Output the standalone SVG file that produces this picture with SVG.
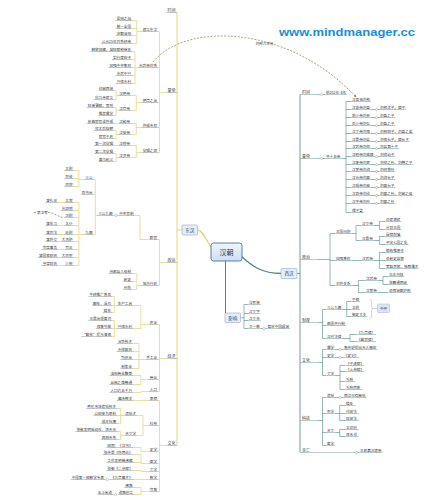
<svg xmlns="http://www.w3.org/2000/svg" width="428" height="500" viewBox="0 0 428 500">
<defs>
<style>
.t{font-family:"Noto Sans CJK SC","Noto Sans",sans-serif;font-size:3.6px;fill:#3a3a3a}
.e{text-anchor:end}
.k{font-size:4px}
.ul{stroke:#8e8e8e;stroke-width:.5;fill:none}
.ur{stroke:#6f9a9a;stroke-width:.5;fill:none}
.cl{stroke:#e6d680;stroke-width:.8;fill:none}
.cr{stroke:#4e8686;stroke-width:.6;fill:none}
.o{fill:#fff;stroke:#8a8a8a;stroke-width:.4}
.bx{fill:#e4eef9;stroke:#93aac2;stroke-width:.6}
.bt{font-family:"Noto Sans CJK SC",sans-serif;font-size:4.6px;fill:#2b3f55;text-anchor:middle}
.rel{stroke:#8c7b3a;stroke-width:.7;fill:none;stroke-dasharray:2 1.4}
</style>
<linearGradient id="cg" x1="0" y1="0" x2="0" y2="1"><stop offset="0" stop-color="#eef5fc"/><stop offset="1" stop-color="#cddff2"/></linearGradient>
<marker id="ah" viewBox="0 0 6 6" refX="5" refY="3" markerWidth="4" markerHeight="4" orient="auto"><path d="M0 0L6 3L0 6z" fill="#8c7b3a"/></marker>
</defs>
<rect width="428" height="500" fill="#fff"/>
<text x="279" y="36" font-family="Liberation Sans,Arial,sans-serif" font-weight="bold" font-size="11.3" fill="#1a8fd6" textLength="136" lengthAdjust="spacingAndGlyphs">www.mindmanager.cc</text>

<g id="connectors">
<g class="cl">
<path d="M177 12.5V445.5M182 230H177" stroke-width="1"/>
<path d="M212 248C206 241 203 230 197.5 230" stroke-width="1.4"/>
<path d="M166.5 92.5H159.5M159.5 31.5V152.5M158 31.5H159.5M158 67.5H159.5M158 102.5H159.5M158 127.5H159.5M158 152.5H159.5"/>
<path d="M166.5 262.5H159.5M159.5 239.5V285.5M158 239.5H159.5M158 285.5H159.5"/>
<path d="M166.5 358.5H159.5M159.5 324.5V391.5M158 324.5H159.5M158 359.5H159.5M158 379.5H159.5M158 391.5H159.5"/>
<path d="M166.5 445.5H159.5M159.5 400.5V491.5M158 400.5H159.5M158 425.5H159.5M158 451.5H159.5M158 463.5H159.5M158 471.5H159.5M158 479.5H159.5M158 491.5H159.5"/>
<path d="M141.6 31.5H136.8M136.8 20.5V43.5M132 20.5H136.8M132 28.5H136.8M132 35.5H136.8M132 43.5H136.8"/>
<path d="M138 67.5H135M135 51.5V83.5M132 51.5H135M132 59.5H135M132 67.5H135M132 75.5H135M132 83.5H135"/>
<path d="M141.6 102.5H136.3M136.3 95.5V110.5M131 95.5H136.3M131 110.5H136.3"/>
<path d="M118.2 95.5H116.1M116.1 90.5V99.5M114 90.5H116.1M114 99.5H116.1"/>
<path d="M118.2 110.5H116.1M116.1 107.5V115.5M114 107.5H116.1M114 115.5H116.1"/>
<path d="M141.6 127.5H136.3M136.3 123.5V134.5M131 123.5H136.3M131 134.5H136.3"/>
<path d="M118.2 123.5H114M118.2 134.5H116.1M116.1 130.5V138.5M114 130.5H116.1M114 138.5H116.1"/>
<path d="M141.6 152.5H136.3M136.3 145.5V157.5M131 145.5H136.3M131 157.5H136.3"/>
<path d="M118.2 145.5H114M118.2 157.5H116.1M116.1 153.5V161.5M114 153.5H116.1M114 161.5H116.1"/>
<path d="M148.8 239.5H140V215.5H134.5M118.1 215.5H117.1M114.9 215.5H113.5"/>
<path d="M97.1 215.5H95.3M95.3 179.5V234.5M93.5 179.5H95.3M93.5 194.5H95.3M93.5 234.5H95.3"/>
<path d="M84.3 179.5H78.9M78.9 170.5V186.5M73.5 170.5H78.9M73.5 178.5H78.9M73.5 186.5H78.9"/>
<path d="M84.3 234.5H78.9M78.9 202.5V265.5M73.5 202.5H78.9M73.5 210.5H78.9M73.5 217.5H78.9M73.5 225.5H78.9M73.5 234.5H78.9M73.5 241.5H78.9M73.5 249.5H78.9M73.5 257.5H78.9M73.5 265.5H78.9"/>
<path d="M64.3 202.5H58M64.3 225.5H58M64.3 234.5H58M60.7 241.5H58M64.3 249.5H58M60.7 257.5H58M64.3 265.5H58"/>
<path d="M141.6 285.5H136.8M136.8 273.5V289.5M132 273.5H136.8M132 281.5H136.8M132 289.5H136.8"/>
<path d="M148.8 324.5H140.9M140.9 305.5V328.5M133 305.5H140.9M133 328.5H140.9"/>
<path d="M116.6 305.5H114.3M114.3 296.5V312.5M112 296.5H114.3M112 305.5H114.3M112 312.5H114.3"/>
<path d="M116.6 328.5H114.3M114.3 320.5V336.5M112 320.5H114.3M112 328.5H114.3M112 336.5H114.3"/>
<path d="M145.2 359.5H139M139 343.5V368.5M133 343.5H139M133 351.5H139M133 359.5H139M133 368.5H139"/>
<path d="M148.8 379.5H140.9M140.9 375.5V384.5M133 375.5H140.9M133 384.5H140.9"/>
<path d="M148.8 391.5H140.9V392.5H133M148.8 400.5H133"/>
<path d="M148.8 425.5H143M143 415.5V435.5M137 415.5H143M137 435.5H143"/>
<path d="M124.2 415.5H120.6M120.6 408.5V423.5M117 408.5H120.6M117 415.5H120.6M117 423.5H120.6"/>
<path d="M124.2 435.5H120.6M120.6 431.5V439.5M117 431.5H120.6M117 439.5H120.6"/>
<path d="M148.8 451.5H141V447.5H133.5M148.8 463.5H141M141 454.5V463.5M133.5 454.5H141M133.5 462.5H141M148.8 471.5H141V470.5H133.5"/>
<path d="M148.8 479.5H133.5M109.9 479.5H108.5M106.3 479.5H105"/>
<path d="M148.8 491.5H141M141 487.5V494.5M133.5 487.5H141M134 494.5H141M117.1 494.5H116.6M114.4 494.5H113"/>
</g>
<path class="rel" d="M34 212.5H37M48 212.5C55 212.5 58 217.5 64.3 217.5"/>
<path class="rel" d="M153 62C185 22 288 24 356 97" marker-end="url(#ah)"/>
<g class="cr">
<path d="M241 256C252 266 262 273.5 281 273.5" stroke-width="1.3"/>
<path d="M225.5 261V313" stroke-width="1"/>
<path d="M297 273.5H300M300 94.5V452.5" stroke-width="0.8"/>
<path d="M240.5 317.7H244M244 304.5V328.5M244 304.5H248M244 313.5H248M244 320.5H248M244 328.5H248M260.8 328.5H262.9M265.1 328.5H266.5"/>
<path d="M318 94.5H320.4M322.6 94.5H325M318 158.5H320.4M322.6 158.5H325"/>
<path d="M341.4 158.5H346M346 101.5V212.5M346 101.5H351M346 109.5H351M346 117.5H351M346 125.5H351M346 133.5H351M346 141.5H351M346 148.5H351M346 156.5H351M346 164.5H351M346 171.5H351M346 179.5H351M346 187.5H351M346 195.5H351M346 203.5H351M346 212.5H351"/>
<path d="M371 109.5H375.4M377.6 109.5H379M371 117.5H375.4M377.6 117.5H379M371 125.5H375.4M377.6 125.5H379M371 133.5H375.4M377.6 133.5H379M371 141.5H375.4M377.6 141.5H379M371 148.5H375.4M377.6 148.5H379M374.6 156.5H375.4M377.6 156.5H379M371 164.5H375.4M377.6 164.5H379M371 171.5H375.4M377.6 171.5H379M371 179.5H375.4M377.6 179.5H379M371 187.5H375.4M377.6 187.5H379M371 195.5H375.4M377.6 195.5H379M371 203.5H375.4M377.6 203.5H379"/>
<path d="M318 259.5H330M330 233.5V285.5M330 233.5H335M330 260.5H335M330 285.5H335"/>
<path d="M351.4 233.5H356M356 225.5V240.5M356 225.5H361M356 240.5H361M373.8 225.5H379.4M379.4 221.5V229.5M379.4 221.5H385M379.4 229.5H385M373.8 240.5H379.4M379.4 236.5V244.5M379.4 236.5H385M379.4 244.5H385"/>
<path d="M351.4 260.5H361M373.8 260.5H379.4M379.4 252.5V268.5M379.4 252.5H385M379.4 260.5H385M379.4 268.5H385"/>
<path d="M351.4 285.5H358.4M358.4 280.5V292.5M358.4 280.5H365M358.4 292.5H365M377.8 280.5H383M383 276.5V284.5M383 276.5H388M383 284.5H388M377.8 292.5H388"/>
<path d="M318 322.5H322.5M322.5 309.5V338.5M322.5 309.5H326M322.5 325.5H326M322.5 338.5H326M342.4 309.5H346.7M346.7 301.5V316.5M346.7 301.5H351M346.7 309.5H351M346.7 316.5H351M342.4 338.5H350M350 334.5V341.5M350 334.5H356M350 341.5H356"/>
<path d="M318 362.5H322.5M322.5 349.5V375.5M322.5 349.5H326M322.5 357.5H326M322.5 375.5H326M335.2 349.5H338.9M341.1 349.5H343M335.2 357.5H338.9M341.1 357.5H343M335.2 375.5H340M340 365.5V389.5M340 365.5H345M340 371.5H345M340 381.5H345M340 389.5H345"/>
<path d="M318 420.5H322.5M322.5 397.5V445.5M322.5 397.5H326M322.5 413.5H326M322.5 432.5H326M322.5 445.5H326M335.2 397.5H338.9M341.1 397.5H343M335.2 413.5H339.7M339.7 405.5V420.5M339.7 405.5H345M339.7 413.5H345M339.7 420.5H345M335.2 432.5H339.7M339.7 429.5V436.5M339.7 429.5H345M339.7 436.5H345M354 452.5H355.4M357.6 452.5H359"/>
</g>
<path d="M369.5 299.5Q371.5 299.5 371.5 301.5V306.5Q371.5 308.5 373.5 308.5Q371.5 308.5 371.5 310.5V316.5Q371.5 318.5 369.5 318.5M373.5 308.5H377.5" fill="none" stroke="#9fb3c6" stroke-width=".5"/>
<g class="o">
<circle cx="116" cy="215.5" r="1.1"/><circle cx="107.4" cy="479.5" r="1.1"/><circle cx="115.5" cy="494.5" r="1.1"/>
<circle cx="321.5" cy="94.5" r="1.1"/><circle cx="321.5" cy="158.5" r="1.1"/>
<circle cx="376.5" cy="109.5" r="1.1"/><circle cx="376.5" cy="117.5" r="1.1"/><circle cx="376.5" cy="125.5" r="1.1"/><circle cx="376.5" cy="133.5" r="1.1"/><circle cx="376.5" cy="141.5" r="1.1"/><circle cx="376.5" cy="148.5" r="1.1"/><circle cx="376.5" cy="156.5" r="1.1"/><circle cx="376.5" cy="164.5" r="1.1"/><circle cx="376.5" cy="171.5" r="1.1"/><circle cx="376.5" cy="179.5" r="1.1"/><circle cx="376.5" cy="187.5" r="1.1"/><circle cx="376.5" cy="195.5" r="1.1"/><circle cx="376.5" cy="203.5" r="1.1"/>
<circle cx="340" cy="349.5" r="1.1"/><circle cx="340" cy="357.5" r="1.1"/><circle cx="340" cy="397.5" r="1.1"/><circle cx="356.5" cy="452.5" r="1.1"/><circle cx="264" cy="328.5" r="1.1"/>
</g>
</g>

<g id="center"><rect x="211" y="243" width="31" height="18" rx="2.5" fill="url(#cg)" stroke="#5b7fa3" stroke-width="1"/><text x="226.5" y="254.6" font-family="Noto Sans CJK SC,sans-serif" font-size="7" fill="#1f3a5a" text-anchor="middle">汉朝</text></g>
<g id="donghan"><rect class="bx" x="182" y="225" width="15.5" height="10" rx="1"/><text class="bt" x="189.75" y="231.7">东汉</text></g>
<g id="xihan"><rect class="bx" x="281" y="268.5" width="16" height="10" rx="1"/><text class="bt" x="289" y="275.2">西汉</text></g>
<g id="yingxiang"><rect class="bx" x="225" y="313" width="15.5" height="9.5" rx="1"/><text class="bt" x="232.75" y="319.5">影响</text></g>
<g id="rel-label"><text class="t" x="264.5" y="45" font-size="3.2" text-anchor="middle" fill="#555">刘邦九世孙</text></g>

<g id="dh-nodes" class="t">
<g id="dh-c1"><text class="t k e" x="175.5" y="11.5">时间</text><path class="ul" d="M166.5 12.5H177"/></g>
<g id="dh-c2"><text class="t k e" x="175.5" y="91.5">皇帝</text><path class="ul" d="M166.5 92.5H177"/></g>
<g id="dh-c3"><text class="t k e" x="175.5" y="261.5">政治</text><path class="ul" d="M166.5 262.5H177"/></g>
<g id="dh-c4"><text class="t k e" x="175.5" y="357.5">经济</text><path class="ul" d="M166.5 358.5H177"/></g>
<g id="dh-c5"><text class="t k e" x="175.5" y="444.5">文化</text><path class="ul" d="M166.5 445.5H177"/></g>

<g id="dh-s1"><text class="t e" x="157" y="30.6">建立东汉</text><path class="ul" d="M141.6 31.5H158"/></g>
<g id="dh-s2"><text class="t e" x="157" y="66.6">光武帝刘秀</text><path class="ul" d="M138 67.5H158"/></g>
<g id="dh-s3"><text class="t e" x="157" y="101.6">明章之治</text><path class="ul" d="M141.6 102.5H158"/></g>
<g id="dh-s4"><text class="t e" x="157" y="126.6">外戚专权</text><path class="ul" d="M141.6 127.5H158"/></g>
<g id="dh-s5"><text class="t e" x="157" y="151.6">党锢之祸</text><path class="ul" d="M141.6 152.5H158"/></g>
<g id="dh-s6"><text class="t e" x="157" y="238.6">职官</text><path class="ul" d="M148.8 239.5H158"/></g>
<g id="dh-s7"><text class="t e" x="157" y="284.6">地方行政</text><path class="ul" d="M141.6 285.5H158"/></g>
<g id="dh-s8"><text class="t e" x="157" y="323.6">农业</text><path class="ul" d="M148.8 324.5H158"/></g>
<g id="dh-s9"><text class="t e" x="157" y="358.6">手工业</text><path class="ul" d="M145.2 359.5H158"/></g>
<g id="dh-s10"><text class="t e" x="157" y="378.6">商业</text><path class="ul" d="M148.8 379.5H158"/></g>
<g id="dh-s11"><text class="t e" x="157" y="390.6">人口</text><path class="ul" d="M148.8 391.5H158"/></g>
<g id="dh-s12"><text class="t e" x="157" y="399.6">思想</text><path class="ul" d="M148.8 400.5H158"/></g>
<g id="dh-s13"><text class="t e" x="157" y="424.6">科技</text><path class="ul" d="M148.8 425.5H158"/></g>
<g id="dh-s14"><text class="t e" x="157" y="450.6">史学</text><path class="ul" d="M148.8 451.5H158"/></g>
<g id="dh-s15"><text class="t e" x="157" y="462.6">医学</text><path class="ul" d="M148.8 463.5H158"/></g>
<g id="dh-s16"><text class="t e" x="157" y="470.6">文学</text><path class="ul" d="M148.8 471.5H158"/></g>
<g id="dh-s17"><text class="t e" x="157" y="478.6">数学</text><path class="ul" d="M148.8 479.5H158"/></g>
<g id="dh-s18"><text class="t e" x="157" y="490.6">宗教</text><path class="ul" d="M148.8 491.5H158"/></g>

<g id="dh-a1"><text class="t e" x="131" y="19.6">昆阳之战</text><path class="ul" d="M115.6 20.5H132"/></g>
<g id="dh-a2"><text class="t e" x="131" y="27.6">统一全国</text><path class="ul" d="M115.6 28.5H132"/></g>
<g id="dh-a3"><text class="t e" x="131" y="34.6">定都洛阳</text><path class="ul" d="M115.6 35.5H132"/></g>
<g id="dh-a4"><text class="t e" x="131" y="42.6">公元25年刘秀称帝</text><path class="ul" d="M100.8 43.5H132"/></g>
<g id="dh-b1"><text class="t e" x="131" y="50.6">释放奴婢，减轻赋税徭役</text><path class="ul" d="M90.4 51.5H132"/></g>
<g id="dh-b2"><text class="t e" x="131" y="58.6">实行度田令</text><path class="ul" d="M112 59.5H132"/></g>
<g id="dh-b3"><text class="t e" x="131" y="66.6">加强中央集权</text><path class="ul" d="M108.4 67.5H132"/></g>
<g id="dh-b4"><text class="t e" x="131" y="74.6">光武中兴</text><path class="ul" d="M115.6 75.5H132"/></g>
<g id="dh-b5"><text class="t e" x="131" y="82.6">兴修水利</text><path class="ul" d="M115.6 83.5H132"/></g>

<g id="dh-e1"><text class="t e" x="130" y="94.6">汉明帝</text><path class="ul" d="M118.2 95.5H131"/></g>
<g id="dh-e1a"><text class="t e" x="113" y="89.6">经营西域</text><path class="ul" d="M98.6 90.5H114"/></g>
<g id="dh-e1b"><text class="t e" x="113" y="98.6">白马寺建立</text><path class="ul" d="M94 99.5H114"/></g>
<g id="dh-e2"><text class="t e" x="130" y="109.6">汉章帝</text><path class="ul" d="M118.2 110.5H131"/></g>
<g id="dh-e2a"><text class="t e" x="113" y="106.6">轻徭薄赋，宽刑</text><path class="ul" d="M86.8 107.5H114"/></g>
<g id="dh-e2b"><text class="t e" x="113" y="114.6">推崇儒学</text><path class="ul" d="M98.6 115.5H114"/></g>
<g id="dh-e3"><text class="t e" x="130" y="122.6">汉和帝</text><path class="ul" d="M118.2 123.5H131"/></g>
<g id="dh-e3a"><text class="t e" x="113" y="122.6">依靠宦官诛外戚</text><path class="ul" d="M86.8 123.5H114"/></g>
<g id="dh-e4"><text class="t e" x="130" y="133.6">汉安帝</text><path class="ul" d="M118.2 134.5H131"/></g>
<g id="dh-e4a"><text class="t e" x="113" y="129.6">邓太后临朝</text><path class="ul" d="M94 130.5H114"/></g>
<g id="dh-e4b"><text class="t e" x="113" y="137.6">宦官干政</text><path class="ul" d="M98.6 138.5H114"/></g>
<g id="dh-e5"><text class="t e" x="130" y="144.6">汉桓帝</text><path class="ul" d="M118.2 145.5H131"/></g>
<g id="dh-e5a"><text class="t e" x="113" y="144.6">第一次党锢</text><path class="ul" d="M94 145.5H114"/></g>
<g id="dh-e6"><text class="t e" x="130" y="156.6">汉灵帝</text><path class="ul" d="M118.2 157.5H131"/></g>
<g id="dh-e6a"><text class="t e" x="113" y="152.6">第二次党锢</text><path class="ul" d="M94 153.5H114"/></g>
<g id="dh-e6b"><text class="t e" x="113" y="160.6">黄巾起义</text><path class="ul" d="M98.6 161.5H114"/></g>

<g id="dh-p1"><text class="t e" x="133.5" y="214.6">中央官制</text><path class="ul" d="M118.1 215.5H134.5"/></g>
<g id="dh-p2"><text class="t e" x="112.5" y="214.6">三公九卿</text><path class="ul" d="M97.1 215.5H113.5"/></g>
<g id="dh-f1"><text class="t e" x="92.5" y="178.6">三公</text><path class="ul" d="M84.3 179.5H93.5"/></g>
<g id="dh-f2"><text class="t e" x="92.5" y="193.6">尚书台</text><path class="ul" d="M80.7 194.5H93.5"/></g>
<g id="dh-f3"><text class="t e" x="92.5" y="233.6">九卿</text><path class="ul" d="M84.3 234.5H93.5"/></g>
<g id="dh-g01"><text class="t e" x="72.5" y="169.6">太尉</text><path class="ul" d="M64.3 170.5H73.5"/></g>
<g id="dh-g02"><text class="t e" x="72.5" y="177.6">司徒</text><path class="ul" d="M64.3 178.5H73.5"/></g>
<g id="dh-g03"><text class="t e" x="72.5" y="185.6">司空</text><path class="ul" d="M64.3 186.5H73.5"/></g>
<g id="dh-h01"><text class="t e" x="72.5" y="201.6">太常</text><path class="ul" d="M64.3 202.5H73.5"/></g>
<g id="dh-h02"><text class="t e" x="72.5" y="209.6">光禄勋</text><path class="ul" d="M60.7 210.5H73.5"/></g>
<g id="dh-h03"><text class="t e" x="72.5" y="216.6">卫尉</text><path class="ul" d="M64.3 217.5H73.5"/></g>
<g id="dh-h04"><text class="t e" x="72.5" y="224.6">太仆</text><path class="ul" d="M64.3 225.5H73.5"/></g>
<g id="dh-h05"><text class="t e" x="72.5" y="233.6">廷尉</text><path class="ul" d="M64.3 234.5H73.5"/></g>
<g id="dh-h06"><text class="t e" x="72.5" y="240.6">大鸿胪</text><path class="ul" d="M60.7 241.5H73.5"/></g>
<g id="dh-h07"><text class="t e" x="72.5" y="248.6">宗正</text><path class="ul" d="M64.3 249.5H73.5"/></g>
<g id="dh-h08"><text class="t e" x="72.5" y="256.6">大司农</text><path class="ul" d="M60.7 257.5H73.5"/></g>
<g id="dh-h09"><text class="t e" x="72.5" y="264.6">少府</text><path class="ul" d="M64.3 265.5H73.5"/></g>
<g id="dh-j01"><text class="t e" x="57" y="201.6">掌礼仪</text><path class="ul" d="M45.2 202.5H58"/></g>
<g id="dh-j02"><text class="t e" x="57" y="224.6">掌车马</text><path class="ul" d="M45.2 225.5H58"/></g>
<g id="dh-j03"><text class="t e" x="57" y="233.6">掌司法</text><path class="ul" d="M45.2 234.5H58"/></g>
<g id="dh-j04"><text class="t e" x="57" y="240.6">掌外交</text><path class="ul" d="M45.2 241.5H58"/></g>
<g id="dh-j05"><text class="t e" x="57" y="248.6">宗室事务</text><path class="ul" d="M41.6 249.5H58"/></g>
<g id="dh-j06"><text class="t e" x="57" y="256.6">掌国家财政</text><path class="ul" d="M38 257.5H58"/></g>
<g id="dh-j07"><text class="t e" x="57" y="264.6">皇室财政</text><path class="ul" d="M41.6 265.5H58"/></g>
<g id="dh-float"><text class="t" x="42.5" y="213.6" text-anchor="middle">禁卫军</text></g>

<g id="dh-k1"><text class="t e" x="131" y="272.6">州郡县三级制</text><path class="ul" d="M108.4 273.5H132"/></g>
<g id="dh-k2"><text class="t e" x="131" y="280.6">刺史</text><path class="ul" d="M122.8 281.5H132"/></g>
<g id="dh-k3"><text class="t e" x="131" y="288.6">州牧</text><path class="ul" d="M122.8 289.5H132"/></g>

<g id="dh-m1"><text class="t e" x="132" y="304.6">生产工具</text><path class="ul" d="M116.6 305.5H133"/></g>
<g id="dh-m1a"><text class="t e" x="111" y="295.6">牛耕推广普及</text><path class="ul" d="M88.4 296.5H112"/></g>
<g id="dh-m1b"><text class="t e" x="111" y="304.6">翻车、渴乌</text><path class="ul" d="M92 305.5H112"/></g>
<g id="dh-m1c"><text class="t e" x="111" y="311.6">耧车</text><path class="ul" d="M102.8 312.5H112"/></g>
<g id="dh-m2"><text class="t e" x="132" y="327.6">兴修水利</text><path class="ul" d="M116.6 328.5H133"/></g>
<g id="dh-m2a"><text class="t e" x="111" y="319.6">王景治理黄河</text><path class="ul" d="M88.4 320.5H112"/></g>
<g id="dh-m2b"><text class="t e" x="111" y="327.6">修复芍陂</text><path class="ul" d="M95.6 328.5H112"/></g>
<g id="dh-m2c"><text class="t e" x="111" y="335.6">“翻车”提水灌溉</text><path class="ul" d="M81.2 336.5H112"/></g>
<g id="dh-n1"><text class="t e" x="132" y="342.6">冶铁技术</text><path class="ul" d="M116.6 343.5H133"/></g>
<g id="dh-n2"><text class="t e" x="132" y="350.6">水排鼓风</text><path class="ul" d="M116.6 351.5H133"/></g>
<g id="dh-n3"><text class="t e" x="132" y="358.6">纺织业</text><path class="ul" d="M120.2 359.5H133"/></g>
<g id="dh-n4"><text class="t e" x="132" y="367.6">制瓷业</text><path class="ul" d="M120.2 368.5H133"/></g>
<g id="dh-n5"><text class="t e" x="132" y="374.6">洛阳商业繁荣</text><path class="ul" d="M109.4 375.5H133"/></g>
<g id="dh-n6"><text class="t e" x="132" y="383.6">丝绸之路畅通</text><path class="ul" d="M109.4 384.5H133"/></g>
<g id="dh-n7"><text class="t e" x="132" y="391.6">人口约五千万</text><path class="ul" d="M109.4 392.5H133"/></g>
<g id="dh-n8"><text class="t e" x="132" y="399.6">谶纬神学</text><path class="ul" d="M116.6 400.5H133"/></g>

<g id="dh-q1"><text class="t e" x="136" y="414.6">造纸术</text><path class="ul" d="M124.2 415.5H137"/></g>
<g id="dh-q1a"><text class="t e" x="116" y="407.6">蔡伦改进造纸技术</text><path class="ul" d="M86.2 408.5H117"/></g>
<g id="dh-q1b"><text class="t e" x="116" y="414.6">以树皮为原料</text><path class="ul" d="M93.4 415.5H117"/></g>
<g id="dh-q1c"><text class="t e" x="116" y="422.6">成本低廉</text><path class="ul" d="M100.6 423.5H117"/></g>
<g id="dh-q2"><text class="t e" x="136" y="434.6">天文学</text><path class="ul" d="M124.2 435.5H137"/></g>
<g id="dh-q2a"><text class="t e" x="116" y="430.6">张衡发明地动仪、浑天仪</text><path class="ul" d="M75.4 431.5H117"/></g>
<g id="dh-q2b"><text class="t e" x="116" y="438.6">观测天象</text><path class="ul" d="M100.6 439.5H117"/></g>
<g id="dh-r1"><text class="t e" x="132.5" y="446.6">班固：《汉书》</text><path class="ul" d="M106.3 447.5H133.5"/></g>
<g id="dh-r2"><text class="t e" x="132.5" y="453.6">张仲景《伤寒论》</text><path class="ul" d="M102.7 454.5H133.5"/></g>
<g id="dh-r3"><text class="t e" x="132.5" y="461.6">华佗发明麻沸散</text><path class="ul" d="M106.3 462.5H133.5"/></g>
<g id="dh-r4"><text class="t e" x="132.5" y="469.6">张衡《二京赋》</text><path class="ul" d="M106.3 470.5H133.5"/></g>
<g id="dh-r5"><text class="t e" x="132.5" y="478.6">《九章算术》</text><path class="ul" d="M109.9 479.5H133.5"/></g>
<g id="dh-r5a"><text class="t e" x="104" y="478.6">中国第一部数学专著</text><path class="ul" d="M70.6 479.5H105"/></g>
<g id="dh-r6"><text class="t e" x="132.5" y="486.6">佛教</text><path class="ul" d="M124.3 487.5H133.5"/></g>
<g id="dh-r7"><text class="t e" x="133" y="493.6">道教创立</text><path class="ul" d="M117.6 494.5H134"/></g>
<g id="dh-r7a"><text class="t e" x="112" y="493.6">五斗米道</text><path class="ul" d="M97.6 494.5H113"/></g>
</g>

<g id="xh-nodes">
<g id="xh-c1"><text class="t k" x="302" y="93.5">时间</text><path class="ur" d="M300 94.5H318"/></g>
<g id="xh-c1a"><text class="t" x="326" y="93.6">前202年-8年</text><path class="ur" d="M325 94.5H347"/></g>
<g id="xh-c2"><text class="t k" x="302" y="157.5">皇帝</text><path class="ur" d="M300 158.5H318"/></g>
<g id="xh-c2a"><text class="t" x="326" y="157.6">共十五帝</text><path class="ur" d="M325 158.5H341.4"/></g>
<g id="xh-m1"><text class="t" x="352" y="100.6">汉高祖刘邦</text><path class="ur" d="M351 101.5H371"/></g>
<g id="xh-m2"><text class="t" x="352" y="108.6">汉惠帝刘盈</text><path class="ur" d="M351 109.5H371"/><text class="t" x="380" y="108.6">刘邦次子，嫡子</text><path class="ur" d="M379 109.5H406.2"/></g>
<g id="xh-m3"><text class="t" x="352" y="116.6">前少帝刘恭</text><path class="ur" d="M351 117.5H371"/><text class="t" x="380" y="116.6">刘盈之子</text><path class="ur" d="M379 117.5H395.4"/></g>
<g id="xh-m4"><text class="t" x="352" y="124.6">后少帝刘弘</text><path class="ur" d="M351 125.5H371"/><text class="t" x="380" y="124.6">刘盈之子</text><path class="ur" d="M379 125.5H395.4"/></g>
<g id="xh-m5"><text class="t" x="352" y="132.6">汉文帝刘恒</text><path class="ur" d="M351 133.5H371"/><text class="t" x="380" y="132.6">刘邦四子，刘盈之弟</text><path class="ur" d="M379 133.5H413.4"/></g>
<g id="xh-m6"><text class="t" x="352" y="140.6">汉景帝刘启</text><path class="ur" d="M351 141.5H371"/><text class="t" x="380" y="140.6">刘恒长子，嫡长子</text><path class="ur" d="M379 141.5H409.8"/></g>
<g id="xh-m7"><text class="t" x="352" y="147.6">汉武帝刘彻</text><path class="ur" d="M351 148.5H371"/><text class="t" x="380" y="147.6">刘启第十子</text><path class="ur" d="M379 148.5H399"/></g>
<g id="xh-m8"><text class="t" x="352" y="155.6">汉昭帝刘弗陵</text><path class="ur" d="M351 156.5H374.6"/><text class="t" x="380" y="155.6">刘彻幼子</text><path class="ur" d="M379 156.5H395.4"/></g>
<g id="xh-m9"><text class="t" x="352" y="163.6">汉废帝刘贺</text><path class="ur" d="M351 164.5H371"/><text class="t" x="380" y="163.6">刘彻之孙，刘髆之子</text><path class="ur" d="M379 164.5H413.4"/></g>
<g id="xh-m10"><text class="t" x="352" y="170.6">汉宣帝刘询</text><path class="ur" d="M351 171.5H371"/><text class="t" x="380" y="170.6">刘彻曾孙</text><path class="ur" d="M379 171.5H395.4"/></g>
<g id="xh-m11"><text class="t" x="352" y="178.6">汉元帝刘奭</text><path class="ur" d="M351 179.5H371"/><text class="t" x="380" y="178.6">刘询长子</text><path class="ur" d="M379 179.5H395.4"/></g>
<g id="xh-m12"><text class="t" x="352" y="186.6">汉成帝刘骜</text><path class="ur" d="M351 187.5H371"/><text class="t" x="380" y="186.6">刘奭长子</text><path class="ur" d="M379 187.5H395.4"/></g>
<g id="xh-m13"><text class="t" x="352" y="194.6">汉哀帝刘欣</text><path class="ur" d="M351 195.5H371"/><text class="t" x="380" y="194.6">刘奭之孙，刘骜之侄</text><path class="ur" d="M379 195.5H413.4"/></g>
<g id="xh-m14"><text class="t" x="352" y="202.6">汉平帝刘衎</text><path class="ur" d="M351 203.5H371"/><text class="t" x="380" y="202.6">刘奭之孙</text><path class="ur" d="M379 203.5H395.4"/></g>
<g id="xh-m15"><text class="t" x="352" y="211.6">孺子婴</text><path class="ur" d="M351 212.5H363.8"/></g>

<g id="xh-c3"><text class="t k" x="302" y="258.5">政治</text><path class="ur" d="M300 259.5H318"/></g>
<g id="xh-n1"><text class="t" x="336" y="232.6">王国问题</text><path class="ur" d="M335 233.5H351.4"/></g>
<g id="xh-n1a"><text class="t" x="362" y="224.6">汉文帝</text><path class="ur" d="M361 225.5H373.8"/></g>
<g id="xh-n1a1"><text class="t" x="386" y="220.6">众建诸侯</text><path class="ur" d="M385 221.5H401.4"/></g>
<g id="xh-n1a2"><text class="t" x="386" y="228.6">分割王国</text><path class="ur" d="M385 229.5H401.4"/></g>
<g id="xh-n1b"><text class="t" x="362" y="239.6">汉景帝</text><path class="ur" d="M361 240.5H373.8"/></g>
<g id="xh-n1b1"><text class="t" x="386" y="235.6">晁错削藩</text><path class="ur" d="M385 236.5H401.4"/></g>
<g id="xh-n1b2"><text class="t" x="386" y="243.6">平定七国之乱</text><path class="ur" d="M385 244.5H408.6"/></g>
<g id="xh-n2"><text class="t" x="336" y="259.6">加强集权</text><path class="ur" d="M335 260.5H351.4"/></g>
<g id="xh-n2a"><text class="t" x="362" y="259.6">汉武帝</text><path class="ur" d="M361 260.5H373.8"/></g>
<g id="xh-n2a1"><text class="t" x="386" y="251.6">颁布推恩令</text><path class="ur" d="M385 252.5H404"/></g>
<g id="xh-n2a2"><text class="t" x="386" y="259.6">设刺史监察</text><path class="ur" d="M385 260.5H404"/></g>
<g id="xh-n2a3"><text class="t" x="386" y="267.6">罢黜百家，独尊儒术</text><path class="ur" d="M385 268.5H418.4"/></g>
<g id="xh-n3"><text class="t" x="336" y="284.6">对外关系</text><path class="ur" d="M335 285.5H351.4"/></g>
<g id="xh-n3a"><text class="t" x="366" y="279.6">汉武帝</text><path class="ur" d="M365 280.5H377.8"/></g>
<g id="xh-n3a1"><text class="t" x="389" y="275.6">北击匈奴</text><path class="ur" d="M388 276.5H404.4"/></g>
<g id="xh-n3a2"><text class="t" x="389" y="283.6">张骞通西域</text><path class="ur" d="M388 284.5H408"/></g>
<g id="xh-n3b"><text class="t" x="366" y="291.6">汉宣帝</text><path class="ur" d="M365 292.5H377.8"/></g>
<g id="xh-n3b1"><text class="t" x="389" y="291.6">设西域都护府</text><path class="ur" d="M388 292.5H411.6"/></g>

<g id="xh-c4"><text class="t k" x="302" y="321.5">制度</text><path class="ur" d="M300 322.5H318"/></g>
<g id="xh-p1"><text class="t" x="327" y="308.6">三公九卿</text><path class="ur" d="M326 309.5H342.4"/></g>
<g id="xh-p1a"><text class="t" x="352" y="300.6">丞相</text><path class="ur" d="M351 301.5H360.2"/></g>
<g id="xh-p1b"><text class="t" x="352" y="308.6">太尉</text><path class="ur" d="M351 309.5H360.2"/></g>
<g id="xh-p1c"><text class="t" x="352" y="315.6">御史大夫</text><path class="ur" d="M351 316.5H367.4"/></g>
<g id="xh-summary"><rect x="377.5" y="304" width="12" height="8.5" rx="1" fill="#dfe6f6" stroke="#9aaed0" stroke-width=".5"/><text class="t" x="383.5" y="309.6" font-size="3.4" text-anchor="middle">中央</text></g>
<g id="xh-p2"><text class="t" x="327" y="324.6">郡国并行制</text><path class="ur" d="M326 325.5H346"/></g>
<g id="xh-p3"><text class="t" x="327" y="337.6">汉代法律</text><path class="ur" d="M326 338.5H342.4"/></g>
<g id="xh-p3a"><text class="t" x="357" y="333.6">《九章律》</text><path class="ur" d="M356 334.5H376"/></g>
<g id="xh-p3b"><text class="t" x="357" y="340.6">《越宫律》</text><path class="ur" d="M356 341.5H376"/></g>

<g id="xh-c5"><text class="t k" x="302" y="361.5">文化</text><path class="ur" d="M300 362.5H318"/></g>
<g id="xh-q1"><text class="t" x="327" y="348.6">儒学</text><path class="ur" d="M326 349.5H335.2"/><text class="t" x="344" y="348.6">董仲舒提出天人感应</text><path class="ur" d="M343 349.5H377.4"/></g>
<g id="xh-q2"><text class="t" x="327" y="356.6">史学</text><path class="ur" d="M326 357.5H335.2"/><text class="t" x="344" y="356.6">《史记》</text><path class="ur" d="M343 357.5H359.4"/></g>
<g id="xh-q3"><text class="t" x="327" y="374.6">文学</text><path class="ur" d="M326 375.5H335.2"/></g>
<g id="xh-q3a"><text class="t" x="346" y="364.6">《子虚赋》</text><path class="ur" d="M345 365.5H364"/></g>
<g id="xh-q3b"><text class="t" x="346" y="370.6">《上林赋》</text><path class="ur" d="M345 371.5H364"/></g>
<g id="xh-q3c"><text class="t" x="346" y="380.6">乐府</text><path class="ur" d="M345 381.5H355.2"/></g>
<g id="xh-q3d"><text class="t" x="346" y="388.6">乐府民歌</text><path class="ur" d="M345 389.5H362.4"/></g>

<g id="xh-c6"><text class="t k" x="302" y="419.5">科技</text><path class="ur" d="M300 420.5H318"/></g>
<g id="xh-r1"><text class="t" x="327" y="396.6">造纸</text><path class="ur" d="M326 397.5H335.2"/><text class="t" x="344" y="396.6">西汉已有麻纸</text><path class="ur" d="M343 397.5H366.6"/></g>
<g id="xh-r2"><text class="t" x="327" y="412.6">农学</text><path class="ur" d="M326 413.5H335.2"/></g>
<g id="xh-r2a"><text class="t" x="346" y="404.6">耧车</text><path class="ur" d="M345 405.5H355.2"/></g>
<g id="xh-r2b"><text class="t" x="346" y="412.6">代田法</text><path class="ur" d="M345 413.5H358.8"/></g>
<g id="xh-r2c"><text class="t" x="346" y="419.6">区田法</text><path class="ur" d="M345 420.5H358.8"/></g>
<g id="xh-r3"><text class="t" x="327" y="431.6">天文</text><path class="ur" d="M326 432.5H335.2"/></g>
<g id="xh-r3a"><text class="t" x="346" y="428.6">太初历</text><path class="ur" d="M345 429.5H358.8"/></g>
<g id="xh-r3b"><text class="t" x="346" y="435.6">浑天说</text><path class="ur" d="M345 436.5H358.8"/></g>
<g id="xh-r4"><text class="t" x="327" y="444.6">医学</text><path class="ur" d="M326 445.5H335.2"/></g>
<g id="xh-c7"><text class="t k" x="302" y="451.5">灭亡</text><path class="ur" d="M300 452.5H354"/><text class="t" x="360" y="451.6">王莽篡汉建新</text><path class="ur" d="M359 452.5H382.6"/></g>

<g id="yx-i1"><text class="t" x="249" y="303.6">汉民族</text><path class="ur" d="M248 304.5H260.8"/></g>
<g id="yx-i2"><text class="t" x="249" y="312.6">汉文字</text><path class="ur" d="M248 313.5H260.8"/></g>
<g id="yx-i3"><text class="t" x="249" y="319.6">汉文化</text><path class="ur" d="M248 320.5H260.8"/></g>
<g id="yx-i4"><text class="t" x="249" y="327.6">大一统</text><path class="ur" d="M248 328.5H260.8"/><text class="t" x="267.5" y="327.6">奠定中国疆域</text><path class="ur" d="M266.5 328.5H290.1"/></g>
</g>
</svg>
